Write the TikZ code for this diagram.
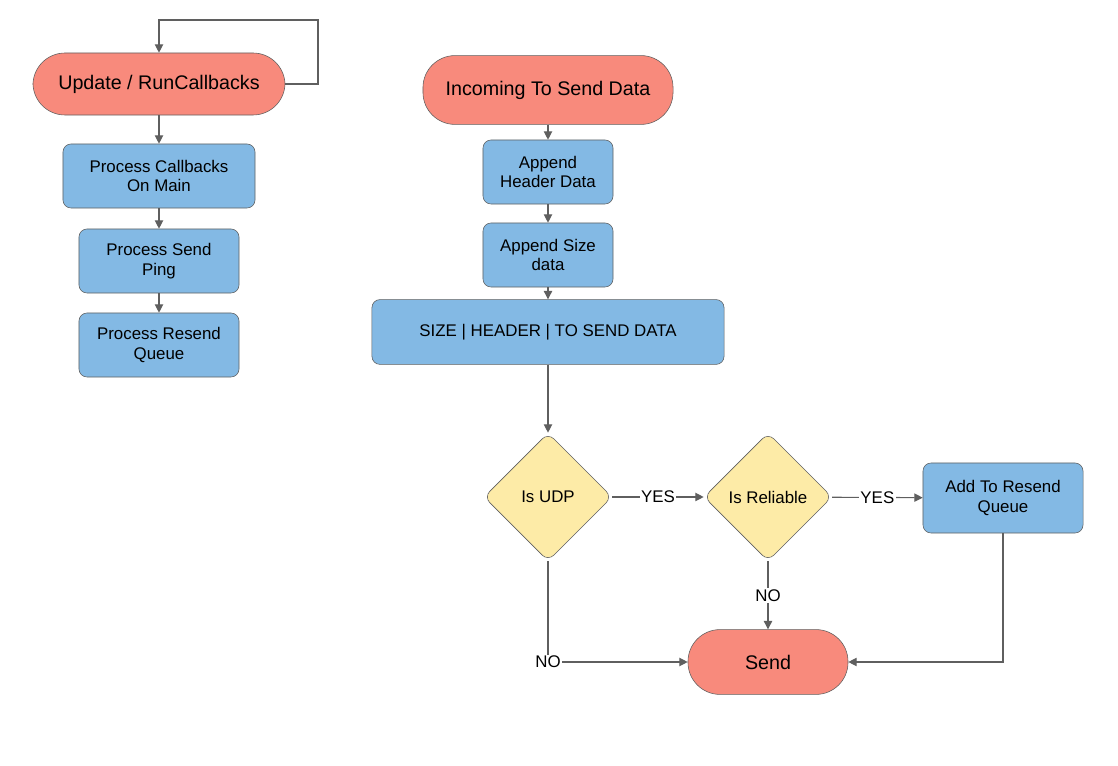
\documentclass[tikz,border=0pt]{standalone}
\usepackage{fontspec}
\setmainfont{Liberation Sans}
\usetikzlibrary{shapes.geometric,arrows.meta}
\definecolor{startred}{HTML}{F88A7C}
\definecolor{stepblue}{HTML}{83B9E4}
\definecolor{askyellow}{HTML}{FDEBA7}
\definecolor{edgegray}{HTML}{5F5F5F}
\tikzset{
  term/.style={draw=edgegray,fill=startred,rounded corners=0.8cm,font=\fontsize{14}{16}\selectfont},
  box/.style={draw=edgegray,fill=stepblue,rounded corners=0.2cm,align=center,font=\fontsize{12}{14}\selectfont},
  ask/.style={draw=edgegray,fill=askyellow,diamond,rounded corners=0.2cm,inner sep=0pt,
              minimum width=3.2cm,minimum height=3.2cm,font=\fontsize{12}{14}\selectfont},
  flow/.style={draw=edgegray,thick,-{Triangle[length=6pt,width=6pt]}},
  tag/.style={fill=white,inner sep=1pt,font=\fontsize{12}{14}\selectfont}
}
\begin{document}
\begin{tikzpicture}[x=0.025cm,y=-0.025cm]
  \useasboundingbox (0,0) rectangle (1118,766);
  % left column
  \node (upd) at (159,84) [term,minimum width=6.3cm,minimum height=1.55cm]{Update / RunCallbacks};
  \node (pcm) at (159,176) [box,minimum width=4.8cm,minimum height=1.6cm]{Process Callbacks\\On Main};
  \node (psp) at (159,261) [box,minimum width=4cm,minimum height=1.6cm]{Process Send\\Ping};
  \node (prq) at (159,345) [box,minimum width=4cm,minimum height=1.6cm]{Process Resend\\Queue};
  \coordinate (lr) at (318,84);
  \coordinate (lt) at (318,20);
  \coordinate (lu) at (159,20);
  \draw[flow] (upd.east) -- (lr) -- (lt) -- (lu) -- (upd.north);
  \draw[flow] (upd) -- (pcm);
  \draw[flow] (pcm) -- (psp);
  \draw[flow] (psp) -- (prq);
  % send path
  \node (inc) at (548,90) [term,minimum width=6.25cm,minimum height=1.72cm]{Incoming To Send Data};
  \node (ahd) at (548,172) [box,minimum width=3.25cm,minimum height=1.6cm]{Append\\Header Data};
  \node (asd) at (548,255) [box,minimum width=3.25cm,minimum height=1.6cm]{Append Size\\data};
  \node (sz) at (548,332) [box,minimum width=8.8cm,minimum height=1.62cm]{SIZE | HEADER | TO SEND DATA};
  \node (udp) at (548,497) [ask]{Is UDP};
  \node (rel) at (768,497) [ask]{Is Reliable};
  \node (arq) at (1003,498) [box,minimum width=4cm,minimum height=1.75cm]{Add To Resend\\Queue};
  \node (snd) at (768,662) [term,minimum width=4cm,minimum height=1.62cm]{Send};
  \coordinate (ud) at (548,662);
  \coordinate (ad) at (1003,662);
  \draw[flow] (inc) -- (ahd);
  \draw[flow] (ahd) -- (asd);
  \draw[flow] (asd) -- (sz);
  \draw[flow] (sz) -- (udp);
  \draw[flow] (udp) -- node[tag]{YES} (rel);
  \draw[flow] (rel) -- node[tag]{YES} (arq);
  \draw[flow] (rel) -- node[tag]{NO} (snd);
  \draw[flow] (udp) -- (ud) node[tag]{NO} -- (snd);
  \draw[flow] (arq) -- (ad) -- (snd);
\end{tikzpicture}
\end{document}
